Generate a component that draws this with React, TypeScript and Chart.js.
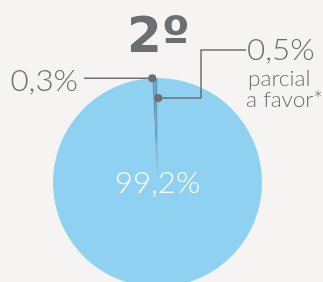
import React, { useEffect, useRef } from "react";
import { Chart, registerables } from "chart.js";

Chart.register(...registerables);

const sliceLabels = ["99,2%", "0,3%", "0,5%"];
const sliceValues = [99.2, 0.3, 0.5];
const sliceColors = ["#8fd1f1", "#6f8ea6", "#5b9cca"];
const titleText = "2º";
const noteLines = ["parcial", "a favor*"];

const INK = "#6d6e71";
const FONT = "Lato";

function wideText(
  ctx: CanvasRenderingContext2D,
  text: string,
  x: number,
  y: number,
  align: CanvasTextAlign,
  sx: number
) {
  ctx.save();
  ctx.translate(x, y);
  ctx.scale(sx, 1);
  ctx.textAlign = align;
  ctx.fillText(text, 0, 0);
  ctx.restore();
}

const calloutPlugin = {
  id: "callouts",
  afterDraw(chart: any) {
    const ctx = chart.ctx as CanvasRenderingContext2D;
    const meta = chart.getDatasetMeta(0);
    const a0 = meta.data[0] as any;
    const a1 = meta.data[1] as any;
    const a2 = meta.data[2] as any;
    const cx = a0.x;
    const cy = a0.y;
    const R = a0.outerRadius;
    ctx.save();
    // title
    ctx.fillStyle = INK;
    ctx.textBaseline = "alphabetic";
    ctx.font = `bold 50px "DejaVu Sans"`;
    wideText(ctx, titleText, cx + 1, 52, "center", 1.0);
    // big slice label
    ctx.fillStyle = "#ffffff";
    ctx.font = `300 30px ${FONT}`;
    ctx.textBaseline = "middle";
    wideText(ctx, sliceLabels[0], cx, cy + 1, "center", 1.04);
    // callout 1
    const s1 = a1.startAngle;
    const p1x = cx + R * Math.cos(s1);
    const p1y = cy + R * Math.sin(s1);
    ctx.strokeStyle = INK;
    ctx.lineWidth = 1.5;
    ctx.beginPath();
    ctx.moveTo(p1x, p1y);
    ctx.lineTo(84, p1y);
    ctx.stroke();
    ctx.fillStyle = INK;
    ctx.textBaseline = "alphabetic";
    ctx.font = `300 29px ${FONT}`;
    wideText(ctx, sliceLabels[1], 78, 91, "right", 1.08);
    // callout 2
    const m2 = (a2.startAngle + a2.endAngle) / 2;
    const p2x = cx + 2 + R * 0.8 * Math.cos(m2);
    const p2y = cy - 1 + R * 0.8 * Math.sin(m2);
    ctx.beginPath();
    ctx.moveTo(p2x, p2y);
    ctx.lineTo(201, p2y);
    ctx.lineTo(201, 50);
    ctx.lineTo(246, 50);
    ctx.stroke();
    ctx.font = `300 29px ${FONT}`;
    wideText(ctx, sliceLabels[2], 247, 60, "left", 1.08);
    ctx.font = `300 21px ${FONT}`;
    wideText(ctx, noteLines[0], 248, 86, "left", 1.08);
    wideText(ctx, noteLines[1], 246, 107, "left", 1.08);
    // dots
    ctx.beginPath();
    ctx.arc(p1x, p1y, 4, 0, Math.PI * 2);
    ctx.fill();
    ctx.beginPath();
    ctx.arc(p2x, p2y, 4, 0, Math.PI * 2);
    ctx.fill();
    ctx.restore();
  },
};

export default function App() {
  const ref = useRef<HTMLCanvasElement | null>(null);
  useEffect(() => {
    document.body.style.margin = "0";
    document.body.style.background = "#f5f4f2";
    const chart = new Chart(ref.current as HTMLCanvasElement, {
      type: "pie",
      data: {
        labels: sliceLabels,
        datasets: [
          {
            data: sliceValues,
            backgroundColor: sliceColors,
            borderWidth: 0,
          },
        ],
      },
      options: {
        animation: false,
        responsive: false,
        maintainAspectRatio: false,
        layout: { padding: { left: 53, right: 61, top: 78, bottom: 13 } },
        plugins: {
          legend: { display: false },
          tooltip: { enabled: false },
          title: { display: false },
        },
      },
      plugins: [calloutPlugin],
    });
    return () => chart.destroy();
  }, []);
  return (
    <div
      style={{
        position: "fixed",
        left: 0,
        top: 0,
        width: 323,
        height: 282,
        overflow: "hidden",
        background: "#f5f4f2",
      }}
    >
      <canvas ref={ref} width={323} height={300} style={{ display: "block" }} />
    </div>
  );
}
